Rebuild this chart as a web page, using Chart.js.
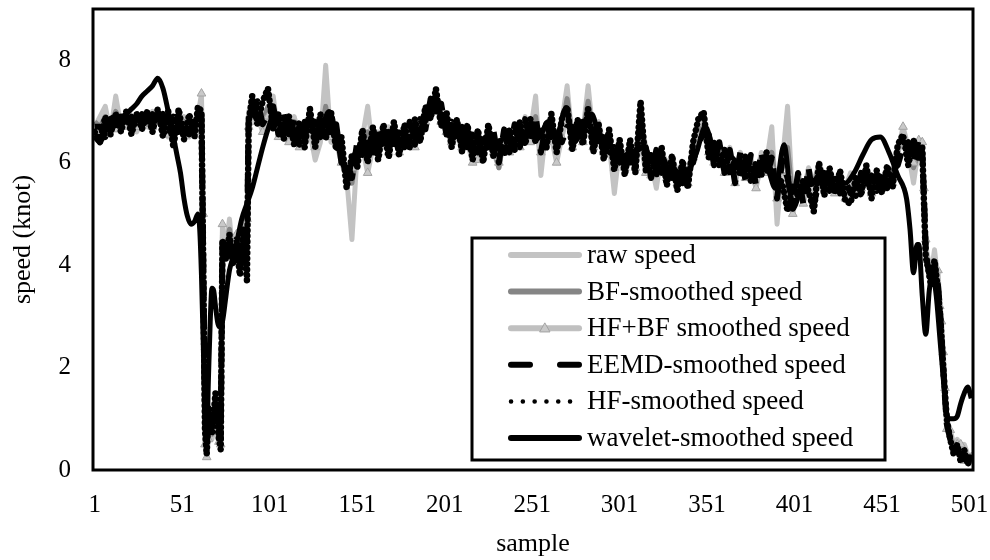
<!DOCTYPE html>
<html>
<head>
<meta charset="utf-8">
<script src="https://cdn.jsdelivr.net/npm/chart.js@4.4.1/dist/chart.umd.min.js"></script>
<style>
  html, body { margin: 0; padding: 0; background: #fff; }
  #wrap { width: 990px; height: 560px; }
</style>
</head>
<body>
<div id="wrap"><canvas id="c" width="990" height="560"></canvas></div>
<script>
// ---------- DATA ----------
const seriesNames = ['raw speed', 'BF-smoothed speed', 'HF+BF smoothed speed',
  'EEMD-smoothed speed', 'HF-smoothed speed', 'wavelet-smoothed speed'];

const xTickLabels = [1, 51, 101, 151, 201, 251, 301, 351, 401, 451, 501];
const yTickLabels = [0, 2, 4, 6, 8];

// sample index for the five noisy series
const sampleX = [
  1,4,7,10,13,16,19,22,25,28,31,34,37,40,43,46,49,52,55,58,60,
  62,63,64,65,66,68,70,72,73,
  74,76,78,80,82,84,86,88,
  89,
  91,94,97,100,103,106,109,112,115,118,
  121,124,127,130,133,136,139,142,145,148,
  151,154,157,160,163,166,169,172,175,178,
  181,184,187,190,193,196,199,202,205,208,
  211,214,217,220,223,226,229,232,235,238,
  241,244,247,250,253,256,259,262,265,268,
  271,274,277,280,283,286,289,292,295,298,
  301,304,307,310,313,316,319,322,325,328,
  331,334,337,340,343,346,349,352,355,358,
  361,364,367,370,373,376,379,382,385,388,
  391,394,397,400,403,406,409,412,415,418,
  421,424,427,430,433,436,439,442,445,448,
  451,454,457,460,463,466,469,472,
  474,475,476,477,479,481,483,484,485,486,487,488,490,492,494,496,498,500,502
];

const rawSpeed = [
  6.7,6.9,7.1,6.6,7.3,6.7,6.8,6.9,6.6,6.8,6.7,7.0,6.8,6.9,6.5,6.9,6.7,6.9,6.5,6.8,7.0,
  6.8,3.5,0.5,0.35,0.9,0.6,1.0,0.5,0.5,
  4.7,4.3,4.9,4.2,4.6,4.0,4.9,4.5,
  7.0,
  6.9,7.2,6.7,7.0,7.3,6.5,6.9,6.6,6.9,6.5,
  6.8,6.6,6.05,6.4,7.9,6.4,6.7,6.0,5.7,4.5,
  6.2,6.5,7.1,6.2,6.6,6.3,6.7,6.4,6.6,6.3,
  6.7,6.5,6.8,7.0,7.2,7.3,6.9,6.7,6.4,6.8,
  6.5,6.7,6.4,6.6,6.3,6.5,6.2,5.9,6.6,6.4,
  6.7,6.5,6.9,6.6,7.3,5.75,6.7,6.8,6.5,6.8,
  7.5,6.4,6.7,6.6,7.5,6.5,6.8,6.3,6.4,5.4,
  6.3,6.0,6.4,5.9,6.9,6.3,6.0,5.5,6.2,6.0,
  6.1,5.8,6.0,5.7,6.4,6.7,6.8,6.4,6.2,6.3,
  6.0,6.3,5.8,6.2,5.9,6.1,5.7,6.2,6.0,6.7,
  4.8,6.0,7.1,5.2,5.8,5.4,5.9,5.6,6.0,5.7,
  5.8,5.6,5.7,5.5,5.8,5.6,5.7,5.9,5.6,5.8,
  5.7,5.9,5.8,6.3,6.6,6.2,5.6,6.3,
  6.2,5.6,4.3,4.2,3.8,4.3,3.7,3.3,2.8,2.2,1.4,0.8,0.7,0.4,0.6,0.2,0.5,0.3,0.2
];

const bfSpeed = [
  6.8,6.7,6.9,6.75,7.0,6.8,6.7,6.85,6.7,6.8,6.75,6.9,6.8,6.85,6.6,6.8,6.75,6.8,6.6,6.75,6.9,
  6.9,4.5,1.0,0.4,0.8,0.7,0.9,0.6,0.5,
  4.6,4.4,4.7,4.3,4.5,4.1,4.8,4.6,
  6.9,
  7.0,7.0,6.8,7.1,7.1,6.6,6.8,6.6,6.8,6.5,
  6.7,6.7,6.6,6.5,7.1,6.5,6.6,6.1,5.9,5.6,
  6.2,6.4,6.6,6.3,6.5,6.4,6.6,6.4,6.5,6.4,
  6.6,6.5,6.7,6.9,7.1,7.2,6.9,6.7,6.5,6.7,
  6.5,6.6,6.4,6.5,6.4,6.5,6.3,5.9,6.5,6.4,
  6.6,6.5,6.8,6.6,6.9,6.2,6.6,6.7,6.5,6.7,
  7.25,6.5,6.6,6.6,7.2,6.5,6.7,6.3,6.4,5.9,
  6.2,6.0,6.3,6.0,6.5,6.2,6.0,5.8,6.1,6.0,
  6.0,5.8,5.9,5.8,6.2,6.6,6.7,6.3,6.2,6.2,
  6.0,6.2,5.8,6.1,5.9,6.0,5.8,6.1,6.0,6.2,
  5.4,5.9,6.3,5.3,5.7,5.5,5.8,5.6,5.9,5.7,
  5.7,5.6,5.7,5.5,5.7,5.6,5.7,5.8,5.6,5.7,
  5.7,5.8,5.8,6.2,6.5,6.2,5.9,6.2,
  6.3,5.4,4.4,4.0,3.8,4.0,3.6,3.2,2.7,2.1,1.5,1.0,0.7,0.4,0.5,0.3,0.4,0.2,0.3
];

const hfBfSpeed = [
  6.5,6.55,6.6,6.7,6.65,6.75,6.7,6.75,6.7,6.8,6.85,6.7,6.9,6.8,6.55,6.7,6.9,6.7,6.75,6.6,6.9,
  7.35,5.0,0.5,0.25,0.6,1.0,0.8,0.55,0.5,
  4.8,4.3,4.5,4.2,4.6,4.1,4.5,4.9,
  6.7,
  6.8,6.9,6.6,6.9,7.0,6.5,6.7,6.4,6.6,6.3,
  6.5,6.7,6.3,6.6,6.7,6.5,6.4,6.0,5.8,5.9,
  6.2,6.3,5.8,6.3,6.2,6.4,6.2,6.5,6.2,6.4,
  6.5,6.3,6.6,6.8,7.0,7.2,6.8,6.6,6.4,6.5,
  6.3,6.4,6.0,6.05,6.3,6.4,6.2,6.0,6.4,6.2,
  6.5,6.3,6.6,6.4,6.6,6.2,6.4,6.5,6.0,6.5,
  6.9,6.3,6.5,6.4,6.8,6.3,6.5,6.2,6.3,5.9,
  6.1,5.9,6.2,5.9,6.4,5.8,5.75,6.0,5.9,5.7,
  5.9,5.6,5.8,5.6,6.1,6.5,6.6,6.2,6.0,6.1,
  5.8,6.1,5.6,6.0,5.7,5.9,5.5,6.0,5.8,5.9,
  5.3,5.7,5.8,5.0,5.5,5.2,5.6,5.3,5.8,5.5,
  5.6,5.4,5.5,5.3,5.6,5.4,5.5,5.7,5.4,5.6,
  5.5,5.7,5.6,6.2,6.7,6.3,6.0,6.44,
  6.4,5.5,4.5,4.1,3.8,3.9,3.9,3.2,2.9,2.3,1.6,0.8,0.78,0.5,0.5,0.5,0.18,0.2,0.25
];

const eemdSpeed = [
  6.7,6.7,6.5,6.85,6.6,6.9,6.65,6.9,6.7,6.95,6.65,6.95,6.75,6.95,6.55,6.9,6.6,6.85,6.55,6.85,6.9,
  6.9,4.2,1.2,0.5,0.9,0.8,1.1,0.7,0.6,
  4.4,4.3,4.5,4.2,4.5,4.0,4.6,4.5,
  6.9,
  6.8,7.2,6.75,6.95,7.1,6.55,6.95,6.45,6.85,6.35,
  6.8,6.55,6.8,6.5,6.95,6.5,6.75,6.0,6.05,5.7,
  6.4,6.15,6.5,6.2,6.55,6.25,6.6,6.3,6.65,6.3,
  6.8,6.35,6.85,6.65,7.25,7.0,7.15,6.55,6.8,6.4,
  6.7,6.3,6.55,6.2,6.55,6.3,6.6,6.0,6.65,6.2,
  6.75,6.3,6.85,6.4,6.9,6.2,6.75,6.5,6.65,6.4,
  6.7,6.7,6.4,6.8,6.65,6.65,6.3,6.5,6.2,6.3,
  6.0,6.2,6.0,6.25,6.3,6.3,5.7,6.25,5.8,6.0,
  5.7,5.9,5.6,5.95,6.0,6.4,6.55,6.55,5.95,6.4,
  5.8,6.25,5.6,6.2,5.65,6.15,5.55,6.2,5.7,6.1,
  5.3,6.05,5.7,5.1,5.8,5.2,5.9,5.2,5.6,5.8,
  5.45,5.75,5.4,5.65,5.4,5.35,5.8,5.5,5.75,5.45,
  5.8,5.5,5.85,5.95,6.3,6.4,6.0,6.45,
  6.2,5.3,4.3,4.0,3.7,4.0,3.6,3.2,2.6,2.0,1.4,0.9,0.6,0.35,0.45,0.25,0.35,0.15,0.25
];

const hfSpeed = [
  6.6,6.4,6.9,6.55,6.95,6.6,7.0,6.55,6.95,6.65,7.0,6.6,7.05,6.5,7.0,6.3,7.05,6.45,6.95,6.5,7.1,
  7.0,4.0,0.8,0.3,1.2,0.7,1.5,0.6,0.4,
  4.5,4.1,4.6,4.0,4.4,3.8,4.7,3.7,
  6.8,
  7.3,6.75,7.2,7.45,6.65,6.95,6.45,6.9,6.35,6.8,
  6.3,7.05,6.3,6.95,6.45,7.0,6.25,6.5,5.5,6.15,
  5.9,6.65,6.0,6.7,6.05,6.75,6.1,6.8,6.15,6.75,
  6.3,6.85,6.4,7.1,6.85,7.45,6.7,7.0,6.3,6.85,
  6.2,6.75,6.05,6.65,6.0,6.75,6.1,6.45,6.15,6.65,
  6.25,6.8,6.35,6.85,6.4,6.65,6.25,6.95,6.2,6.85,
  7.1,6.25,6.85,6.35,7.05,6.2,6.75,6.05,6.65,5.85,
  6.45,5.75,6.45,5.8,7.2,5.85,6.15,5.75,6.3,5.55,
  6.15,5.45,6.05,5.5,6.4,6.85,7.0,6.1,6.4,5.95,
  6.25,5.8,6.05,5.75,6.15,5.65,6.0,5.75,6.2,5.7,
  5.75,5.6,5.05,5.55,5.35,5.65,5.45,5.05,6.0,5.35,
  5.9,5.4,5.85,5.25,5.2,5.7,5.35,5.95,5.3,5.85,
  5.4,5.95,5.5,6.35,6.55,5.95,6.45,6.05,
  6.3,5.2,4.15,4.0,3.6,4.1,3.5,3.1,2.6,2.0,1.5,1.0,0.6,0.3,0.5,0.15,0.4,0.1,0.3
];

// wavelet-smoothed series has its own sample positions
const waveletX = [
  1,4,7,10,13,16,19,22,25,28,31,34,37,40,43,46,
  48,50,52,54,56,58,60,
  61,62,63,64,65,66,67,68,69,70,
  72,74,76,78,81,85,88,91,94,97,100,103,
  105,110,115,120,125,130,135,140,145,150,
  155,160,165,170,175,180,185,190,195,200,
  205,210,215,220,225,230,235,240,245,250,
  255,260,265,270,275,280,285,290,295,300,
  305,310,315,320,325,330,335,340,345,350,
  355,360,365,370,375,380,385,390,395,400,
  405,410,415,420,425,430,435,440,445,450,
  455,460,465,
  467,469,471,472,474,476,478,480,482,484,486,488,490,492,494,496,498,500,502
];
const waveletSpeed = [
  6.5,6.4,6.6,6.85,6.9,6.9,6.95,7.05,7.15,7.3,7.4,7.5,7.65,7.45,7.0,6.5,
  6.15,5.8,5.3,4.95,4.8,4.85,5.0,
  4.7,3.8,2.5,1.0,0.6,1.8,2.9,3.55,3.5,3.2,
  2.8,2.9,3.4,3.9,4.25,4.9,5.2,5.5,5.9,6.3,6.65,6.9,
  6.8,6.7,6.5,6.6,6.8,6.7,7.0,6.4,5.8,6.2,
  6.4,6.3,6.5,6.4,6.6,6.5,6.6,6.8,7.1,6.9,
  6.6,6.5,6.4,6.4,6.5,6.3,6.5,6.6,6.5,6.7,
  6.5,6.8,6.5,7.05,6.4,6.7,6.95,6.4,6.2,6.1,
  6.0,6.2,6.3,6.0,6.1,5.8,5.7,5.8,6.2,6.7,
  6.2,6.0,6.1,5.9,5.9,5.8,5.9,5.5,6.35,5.1,
  5.5,5.6,5.7,5.6,5.7,5.6,5.8,6.15,6.45,6.5,
  6.2,5.75,5.3,
  4.7,3.85,4.4,4.4,3.4,2.65,3.5,3.8,3.4,2.6,1.8,1.1,1.0,1.0,1.05,1.3,1.5,1.62,1.4
];

// ---------- sanity check ----------
[rawSpeed, bfSpeed, hfBfSpeed, eemdSpeed, hfSpeed].forEach((a, i) => {
  if (a.length !== sampleX.length) throw new Error('length mismatch series ' + i + ': ' + a.length + ' vs ' + sampleX.length);
});
if (waveletSpeed.length !== waveletX.length) throw new Error('wavelet length mismatch ' + waveletSpeed.length + ' vs ' + waveletX.length);

const pts = (xs, ys) => xs.map((x, i) => ({ x: x, y: ys[i] }));

const FONT = '"Liberation Serif", "Times New Roman", serif';
Chart.defaults.font.family = FONT;
Chart.defaults.color = '#000';

const common = { pointRadius: 0, pointHoverRadius: 0, borderJoinStyle: 'round', tension: 0, fill: false };

const datasets = [
  Object.assign({}, common, { label: seriesNames[0], data: pts(sampleX, rawSpeed),
    borderColor: '#c3c3c3', borderWidth: 5, order: 6,
    legendWidth: 6, legendCap: 'round' }),
  Object.assign({}, common, { label: seriesNames[1], data: pts(sampleX, bfSpeed),
    borderColor: '#858585', borderWidth: 5, order: 5,
    legendWidth: 6, legendCap: 'round' }),
  Object.assign({}, common, { label: seriesNames[2], data: pts(sampleX, hfBfSpeed),
    borderColor: '#c0c0c0', borderWidth: 5, order: 4,
    pointStyle: 'triangle', pointRadius: 5, backgroundColor: '#c9c9c9', pointBorderColor: '#a3a3a3', pointBorderWidth: 1,
    legendWidth: 6, legendCap: 'round' }),
  Object.assign({}, common, { label: seriesNames[3], data: pts(sampleX, eemdSpeed),
    borderColor: '#000000', borderWidth: 6, borderDash: [18, 10], order: 3,
    legendWidth: 6, legendCap: 'round', legendDash: [19, 30] }),
  Object.assign({}, common, { label: seriesNames[4], data: pts(sampleX, hfSpeed),
    borderColor: '#000000', borderWidth: 6.5, borderDash: [0.1, 5.5], borderCapStyle: 'round', order: 2,
    legendWidth: 4.5, legendCap: 'round', legendDash: [0.1, 11.7] }),
  Object.assign({}, common, { label: seriesNames[5], data: pts(waveletX, waveletSpeed),
    borderColor: '#000000', borderWidth: 5, cubicInterpolationMode: 'monotone', order: 1,
    legendWidth: 6, legendCap: 'round' })
];

const framePlugin = {
  id: 'frame',
  afterDatasetsDraw(chart) {
    const a = chart.chartArea, ctx = chart.ctx;
    ctx.save();
    ctx.lineWidth = 3;
    ctx.strokeStyle = '#000';
    ctx.strokeRect(a.left, a.top, a.right - a.left, a.bottom - a.top);
    ctx.restore();
  }
};

const legendPlugin = {
  id: 'boxLegend',
  afterDraw(chart) {
    const ctx = chart.ctx;
    const L = 472, T = 238, W = 413, H = 222;
    ctx.save();
    ctx.fillStyle = '#fff';
    ctx.fillRect(L, T, W, H);
    ctx.lineWidth = 3;
    ctx.strokeStyle = '#000';
    ctx.strokeRect(L, T, W, H);
    chart.data.datasets.forEach((ds, i) => {
      const y = 255 + i * 36.6;
      ctx.beginPath();
      ctx.setLineDash(ds.legendDash || []);
      ctx.lineCap = ds.legendCap || 'butt';
      ctx.lineWidth = ds.legendWidth;
      ctx.strokeStyle = ds.borderColor;
      ctx.moveTo(511, y);
      ctx.lineTo(579, y);
      ctx.stroke();
      ctx.setLineDash([]);
      if (ds.pointStyle === 'triangle') {
        const cx = 545, r = 5;
        ctx.beginPath();
        ctx.moveTo(cx, y - r);
        ctx.lineTo(cx + r, y + r * 0.75);
        ctx.lineTo(cx - r, y + r * 0.75);
        ctx.closePath();
        ctx.fillStyle = ds.backgroundColor;
        ctx.fill();
        ctx.lineWidth = 1;
        ctx.strokeStyle = ds.pointBorderColor;
        ctx.stroke();
      }
      ctx.fillStyle = '#000';
      ctx.font = '27px ' + FONT;
      ctx.textBaseline = 'middle';
      ctx.textAlign = 'left';
      ctx.fillText(ds.label, 587, y + 1);
    });
    ctx.restore();
  }
};

new Chart(document.getElementById('c'), {
  type: 'line',
  data: { datasets: datasets },
  options: {
    responsive: false,
    animation: false,
    devicePixelRatio: 1,
    layout: { padding: { top: 9, right: 17, left: 0, bottom: 0 } },
    plugins: { legend: { display: false }, tooltip: { enabled: false } },
    scales: {
      x: {
        type: 'linear',
        min: 0,
        max: 503,
        afterBuildTicks: (s) => { s.ticks = xTickLabels.map(v => ({ value: v })); },
        afterFit: (s) => { s.height = 90; s.paddingLeft = 0; s.paddingRight = 0; },
        grid: { display: false, drawTicks: false, tickLength: 0 },
        border: { display: false },
        ticks: { font: { size: 25 }, color: '#000', padding: 20, maxRotation: 0, autoSkip: false,
          callback: (v) => String(v) },
        title: { display: true, text: 'sample', font: { size: 26 }, color: '#000', padding: { top: 4, bottom: 0 } }
      },
      y: {
        min: 0,
        max: 9,
        afterBuildTicks: (s) => { s.ticks = yTickLabels.map(v => ({ value: v })); },
        afterFit: (s) => { s.width = 93; s.paddingTop = 0; s.paddingBottom = 0; },
        grid: { display: false, drawTicks: false, tickLength: 0 },
        border: { display: false },
        ticks: { font: { size: 25 }, color: '#000', padding: 22, callback: (v) => String(v) },
        title: { display: true, text: 'speed (knot)', font: { size: 26 }, color: '#000', padding: { top: 8, bottom: 4 } }
      }
    }
  },
  plugins: [framePlugin, legendPlugin]
});
</script>
</body>
</html>
